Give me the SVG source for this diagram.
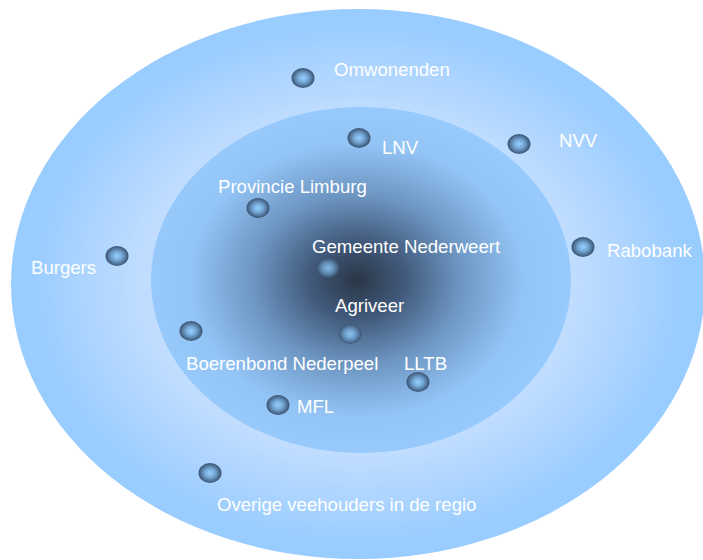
<svg xmlns="http://www.w3.org/2000/svg" width="703" height="560" viewBox="0 0 703 560">
<defs>
<radialGradient id="gOuter" cx="0.5" cy="0.5" r="0.5">
<stop offset="0" stop-color="#c8e2ff"/>
<stop offset="0.62" stop-color="#c0ddff"/>
<stop offset="0.95" stop-color="#99ccff"/>
<stop offset="1" stop-color="#99ccff"/>
</radialGradient>
<radialGradient id="gInner" cx="0.49" cy="0.5" r="0.55">
<stop offset="0" stop-color="#2a3646"/>
<stop offset="0.2" stop-color="#41597a"/>
<stop offset="0.45" stop-color="#6d96c2"/>
<stop offset="0.72" stop-color="#93c4f6"/>
<stop offset="1" stop-color="#99ccff"/>
</radialGradient>
<radialGradient id="gBead" cx="0.5" cy="0.5" r="0.5">
<stop offset="0" stop-color="#98d0ff"/>
<stop offset="0.45" stop-color="#74a8d6"/>
<stop offset="1" stop-color="#3a5270"/>
</radialGradient>
</defs>
<style>
.bead{fill:url(#gBead)}
.lbl{font-family:"Liberation Sans",Arial,sans-serif;font-size:18.6px;fill:#ffffff}
</style>
<rect width="703" height="560" fill="#ffffff"/>
<ellipse cx="358" cy="284" rx="347" ry="275" fill="url(#gOuter)"/>
<ellipse cx="361" cy="280" rx="210" ry="173" fill="url(#gInner)"/>
<g id="connectors"/>
<g id="omwonenden"><ellipse class="bead" cx="303" cy="78" rx="11.5" ry="10"/><text class="lbl" x="334" y="76">Omwonenden</text></g>
<g id="lnv"><ellipse class="bead" cx="359" cy="138" rx="11.5" ry="10"/><text class="lbl" x="382" y="154">LNV</text></g>
<g id="nvv"><ellipse class="bead" cx="519" cy="144" rx="11.5" ry="10"/><text class="lbl" x="559" y="147">NVV</text></g>
<g id="rabobank"><ellipse class="bead" cx="583" cy="247" rx="11.5" ry="10"/><text class="lbl" x="607" y="257">Rabobank</text></g>
<g id="provincie"><ellipse class="bead" cx="258" cy="208" rx="11.5" ry="10"/><text class="lbl" x="218" y="193">Provincie Limburg</text></g>
<g id="gemeente"><ellipse class="bead" cx="328" cy="268" rx="11.5" ry="10" opacity="0.8"/><text class="lbl" x="312" y="253">Gemeente Nederweert</text></g>
<g id="agriveer"><ellipse class="bead" cx="350" cy="334" rx="11.5" ry="10" opacity="0.85"/><text class="lbl" x="335" y="312">Agriveer</text></g>
<g id="burgers"><ellipse class="bead" cx="117" cy="256" rx="11.5" ry="10"/><text class="lbl" x="31" y="274">Burgers</text></g>
<g id="boerenbond"><ellipse class="bead" cx="191" cy="331" rx="11.5" ry="10"/><text class="lbl" x="186" y="370">Boerenbond Nederpeel</text></g>
<g id="lltb"><ellipse class="bead" cx="418" cy="382" rx="11.5" ry="10"/><text class="lbl" x="404" y="370">LLTB</text></g>
<g id="mfl"><ellipse class="bead" cx="278" cy="405" rx="11.5" ry="10"/><text class="lbl" x="297" y="413">MFL</text></g>
<g id="overige"><ellipse class="bead" cx="210" cy="473" rx="11.5" ry="10"/><text class="lbl" x="217" y="511">Overige veehouders in de regio</text></g>
</svg>
